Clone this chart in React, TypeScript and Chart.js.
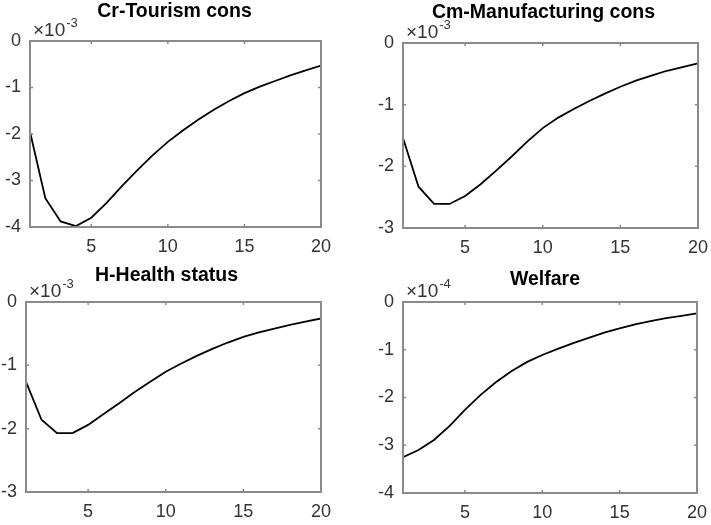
import React, { useEffect, useRef } from 'react';
import { Chart, registerables } from 'chart.js';

Chart.register(...registerables);

// ---- data (values in units of the axis multiplier) ----
const periods = [1, 2, 3, 4, 5, 6, 7, 8, 9, 10, 11, 12, 13, 14, 15, 16, 17, 18, 19, 20];
const titles = ['Cr-Tourism cons', 'Cm-Manufacturing cons', 'H-Health status', 'Welfare'];
const exponents = ['-3', '-3', '-3', '-4'];
const yMins = [-4, -3, -3, -4];
const yMaxs = [0, 0, 0, 0];
const xTickValues = [5, 10, 15, 20];

const tourismCons = [-1.95, -3.38, -3.88, -3.98, -3.8, -3.48, -3.12, -2.78, -2.46, -2.17, -1.92, -1.69, -1.48, -1.29, -1.12, -0.98, -0.86, -0.74, -0.63, -0.53];
const manufacturingCons = [-1.54, -2.33, -2.61, -2.61, -2.48, -2.29, -2.07, -1.84, -1.6, -1.38, -1.21, -1.07, -0.94, -0.82, -0.71, -0.61, -0.53, -0.45, -0.39, -0.33];
const healthStatus = [-1.26, -1.86, -2.07, -2.07, -1.94, -1.77, -1.6, -1.42, -1.26, -1.1, -0.97, -0.85, -0.74, -0.64, -0.55, -0.48, -0.42, -0.36, -0.31, -0.26];
const welfare = [-3.25, -3.1, -2.89, -2.6, -2.26, -1.95, -1.68, -1.45, -1.26, -1.11, -0.98, -0.86, -0.75, -0.64, -0.55, -0.47, -0.4, -0.34, -0.29, -0.24];

const seriesList = [tourismCons, manufacturingCons, healthStatus, welfare];

// ---- layout / style (not data) ----
const PANELS = [
  { x: 0, y: 0, w: 360, h: 262, left: 30, right: 321, top: 41, bottom: 227, titleDx: -1, titleDy: 24 },
  { x: 360, y: 0, w: 351, h: 262, left: 43, right: 338, top: 43, bottom: 228, titleDx: -7, titleDy: 25 },
  { x: 0, y: 262, w: 360, h: 263, left: 26, right: 321, top: 40, bottom: 230, titleDx: -7, titleDy: 21 },
  { x: 360, y: 262, w: 351, h: 263, left: 43, right: 337, top: 40, bottom: 231, titleDx: -5, titleDy: 17 },
];

const FONT_FAMILY = '"Liberation Sans", Arial, Helvetica, sans-serif';
const TICK_COLOR = '#333333';
const BOX_COLOR = '#8a8a8a';

function makeFramePlugin(idx: number) {
  const p = PANELS[idx];
  return {
    id: 'matlabFrame' + idx,
    afterDraw(chart: any) {
      const { ctx, chartArea } = chart;
      const { left, right, top, bottom } = chartArea;
      const xs = chart.scales.x;
      const ys = chart.scales.y;
      ctx.save();
      ctx.strokeStyle = BOX_COLOR;
      ctx.lineWidth = 2;
      ctx.strokeRect(left, top, right - left, bottom - top);
      // inward ticks
      ctx.lineWidth = 1.5;
      ctx.beginPath();
      const tl = 3;
      xs.ticks.forEach((t: any) => {
        const px = xs.getPixelForValue(t.value);
        ctx.moveTo(px, bottom);
        ctx.lineTo(px, bottom - tl);
        ctx.moveTo(px, top);
        ctx.lineTo(px, top + tl);
      });
      ys.ticks.forEach((t: any) => {
        const py = ys.getPixelForValue(t.value);
        ctx.moveTo(left, py);
        ctx.lineTo(left + tl, py);
        ctx.moveTo(right, py);
        ctx.lineTo(right - tl, py);
      });
      ctx.stroke();
      // title
      ctx.fillStyle = '#000000';
      ctx.font = 'bold 19.5px ' + FONT_FAMILY;
      ctx.textAlign = 'center';
      ctx.textBaseline = 'alphabetic';
      ctx.fillText(titles[idx], (left + right) / 2 + p.titleDx, top - p.titleDy);
      // exponent label
      ctx.fillStyle = TICK_COLOR;
      ctx.textAlign = 'left';
      ctx.font = '19px ' + FONT_FAMILY;
      const base = '\u00D710';
      const bx = left + 3;
      const by = top - 5;
      ctx.fillText(base, bx, by);
      const bw = ctx.measureText(base).width;
      ctx.font = '13px ' + FONT_FAMILY;
      ctx.fillText(exponents[idx], bx + bw + 1, by - 9);
      ctx.restore();
    },
  };
}

function Panel({ idx }: { idx: number }) {
  const ref = useRef<HTMLCanvasElement | null>(null);
  const p = PANELS[idx];
  useEffect(() => {
    if (!ref.current) return;
    const values = seriesList[idx];
    const chart = new Chart(ref.current, {
      type: 'line',
      data: {
        datasets: [
          {
            data: periods.map((x, i) => ({ x, y: values[i] })),
            borderColor: '#000000',
            borderWidth: 1.8,
            pointRadius: 0,
            tension: 0,
            fill: false,
          },
        ],
      },
      options: {
        animation: false,
        responsive: false,
        maintainAspectRatio: false,
        devicePixelRatio: 1,
        layout: { padding: { left: 0, top: p.top, right: p.w - p.right, bottom: 0 } },
        plugins: {
          legend: { display: false },
          tooltip: { enabled: false },
          title: { display: false },
        },
        scales: {
          x: {
            type: 'linear',
            min: periods[0],
            max: periods[periods.length - 1],
            afterBuildTicks: (s: any) => {
              s.ticks = xTickValues.map((v) => ({ value: v }));
            },
            afterFit: (s: any) => {
              s.height = p.h - p.bottom;
              s.paddingLeft = 0;
              s.paddingRight = 0;
            },
            grid: { display: false, drawTicks: false },
            border: { display: false },
            ticks: {
              autoSkip: false,
              maxRotation: 0,
              padding: 9,
              color: TICK_COLOR,
              font: { family: FONT_FAMILY, size: 18 },
            },
          },
          y: {
            type: 'linear',
            min: yMins[idx],
            max: yMaxs[idx],
            afterFit: (s: any) => {
              s.width = p.left;
              s.paddingTop = 0;
              s.paddingBottom = 0;
            },
            grid: { display: false, drawTicks: false },
            border: { display: false },
            ticks: {
              stepSize: 1,
              padding: 9,
              color: TICK_COLOR,
              font: { family: FONT_FAMILY, size: 18 },
            },
          },
        },
      },
      plugins: [makeFramePlugin(idx)],
    } as any);
    return () => chart.destroy();
  }, [idx]);
  return (
    <canvas
      ref={ref}
      width={p.w}
      height={p.h}
      style={{ position: 'absolute', left: p.x, top: p.y, width: p.w, height: p.h }}
    />
  );
}

export default function App() {
  return (
    <div style={{ position: 'fixed', left: 0, top: 0, width: 711, height: 525, background: '#ffffff', overflow: 'hidden' }}>
      {PANELS.map((_, i) => (
        <Panel key={i} idx={i} />
      ))}
    </div>
  );
}
